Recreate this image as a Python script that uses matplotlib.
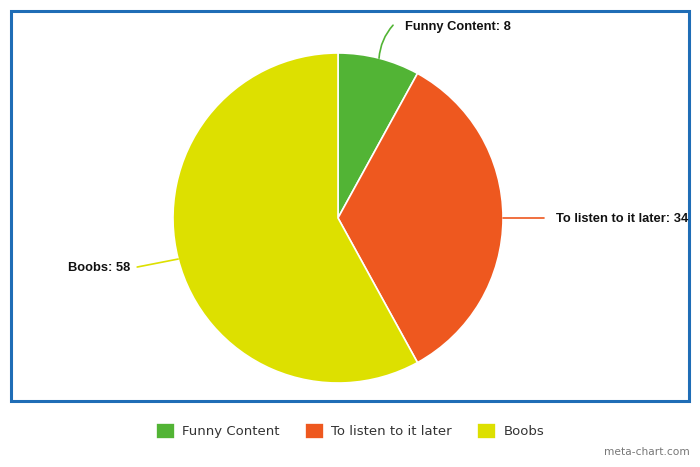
import numpy as np
import matplotlib.pyplot as plt
from matplotlib.patches import Rectangle

labels = ["Funny Content", "To listen to it later", "Boobs"]
values = [8, 34, 58]
colors = ["#52b435", "#ee581f", "#dde000"]

W, H = 700, 467
fig = plt.figure(figsize=(7, 4.67), dpi=100)
ax = fig.add_axes([0, 0, 1, 1])

cx, cy, r = 338, H - 218, 165
wedges, _ = ax.pie(values, colors=colors, startangle=90, counterclock=False,
                   center=(cx, cy), radius=r,
                   wedgeprops=dict(edgecolor="white", linewidth=1.2))
ax.set_xlim(0, W)
ax.set_ylim(0, H)
ax.set_aspect("auto")
ax.axis("off")

# chart frame
ax.add_patch(Rectangle((11, H - 401), 678, 390, fill=False,
                       edgecolor="#1f6db6", linewidth=2.2))

# outside labels with leader lines
offsets = [(14, 33, "left", "arc3,rad=0.17"),
           (41, 0, "left", "arc3,rad=0"),
           (-41, -8, "right", "arc3,rad=0")]
font = dict(family="Liberation Sans", weight="bold", size=9.3, color="#111111")
for w, lab, val, col, (dx, dy, ha, cs) in zip(wedges, labels, values, colors, offsets):
    ang = np.deg2rad((w.theta1 + w.theta2) / 2)
    x0 = cx + r * np.cos(ang)
    y0 = cy + r * np.sin(ang)
    x1, y1 = x0 + dx, y0 + dy
    ax.annotate("", xy=(x0, y0), xytext=(x1, y1),
                arrowprops=dict(arrowstyle="-", color=col, lw=1.2,
                                connectionstyle=cs, shrinkA=0, shrinkB=0))
    tx = x1 + 12 if ha == "left" else x1 - 7
    ty = y1 - 2 if dy > 0 else y1 - 1
    ax.text(tx, ty, f"{lab}: {val}", ha=ha, va="center", **font)

# legend
leg = fig.legend(wedges, labels, loc="center", bbox_to_anchor=(0.5, 1 - 431 / H),
                 ncol=3, frameon=False, handlelength=1.45, handleheight=1.4,
                 handletextpad=0.55, columnspacing=1.9,
                 prop=dict(family="DejaVu Sans", size=9.5))
for t in leg.get_texts():
    t.set_color("#333333")

fig.text(690 / W, 1 - 452 / H, "meta-chart.com", ha="right", va="center",
         fontsize=7.7, color="#777777", family="DejaVu Sans")

fig.savefig("out.png", dpi=100)
